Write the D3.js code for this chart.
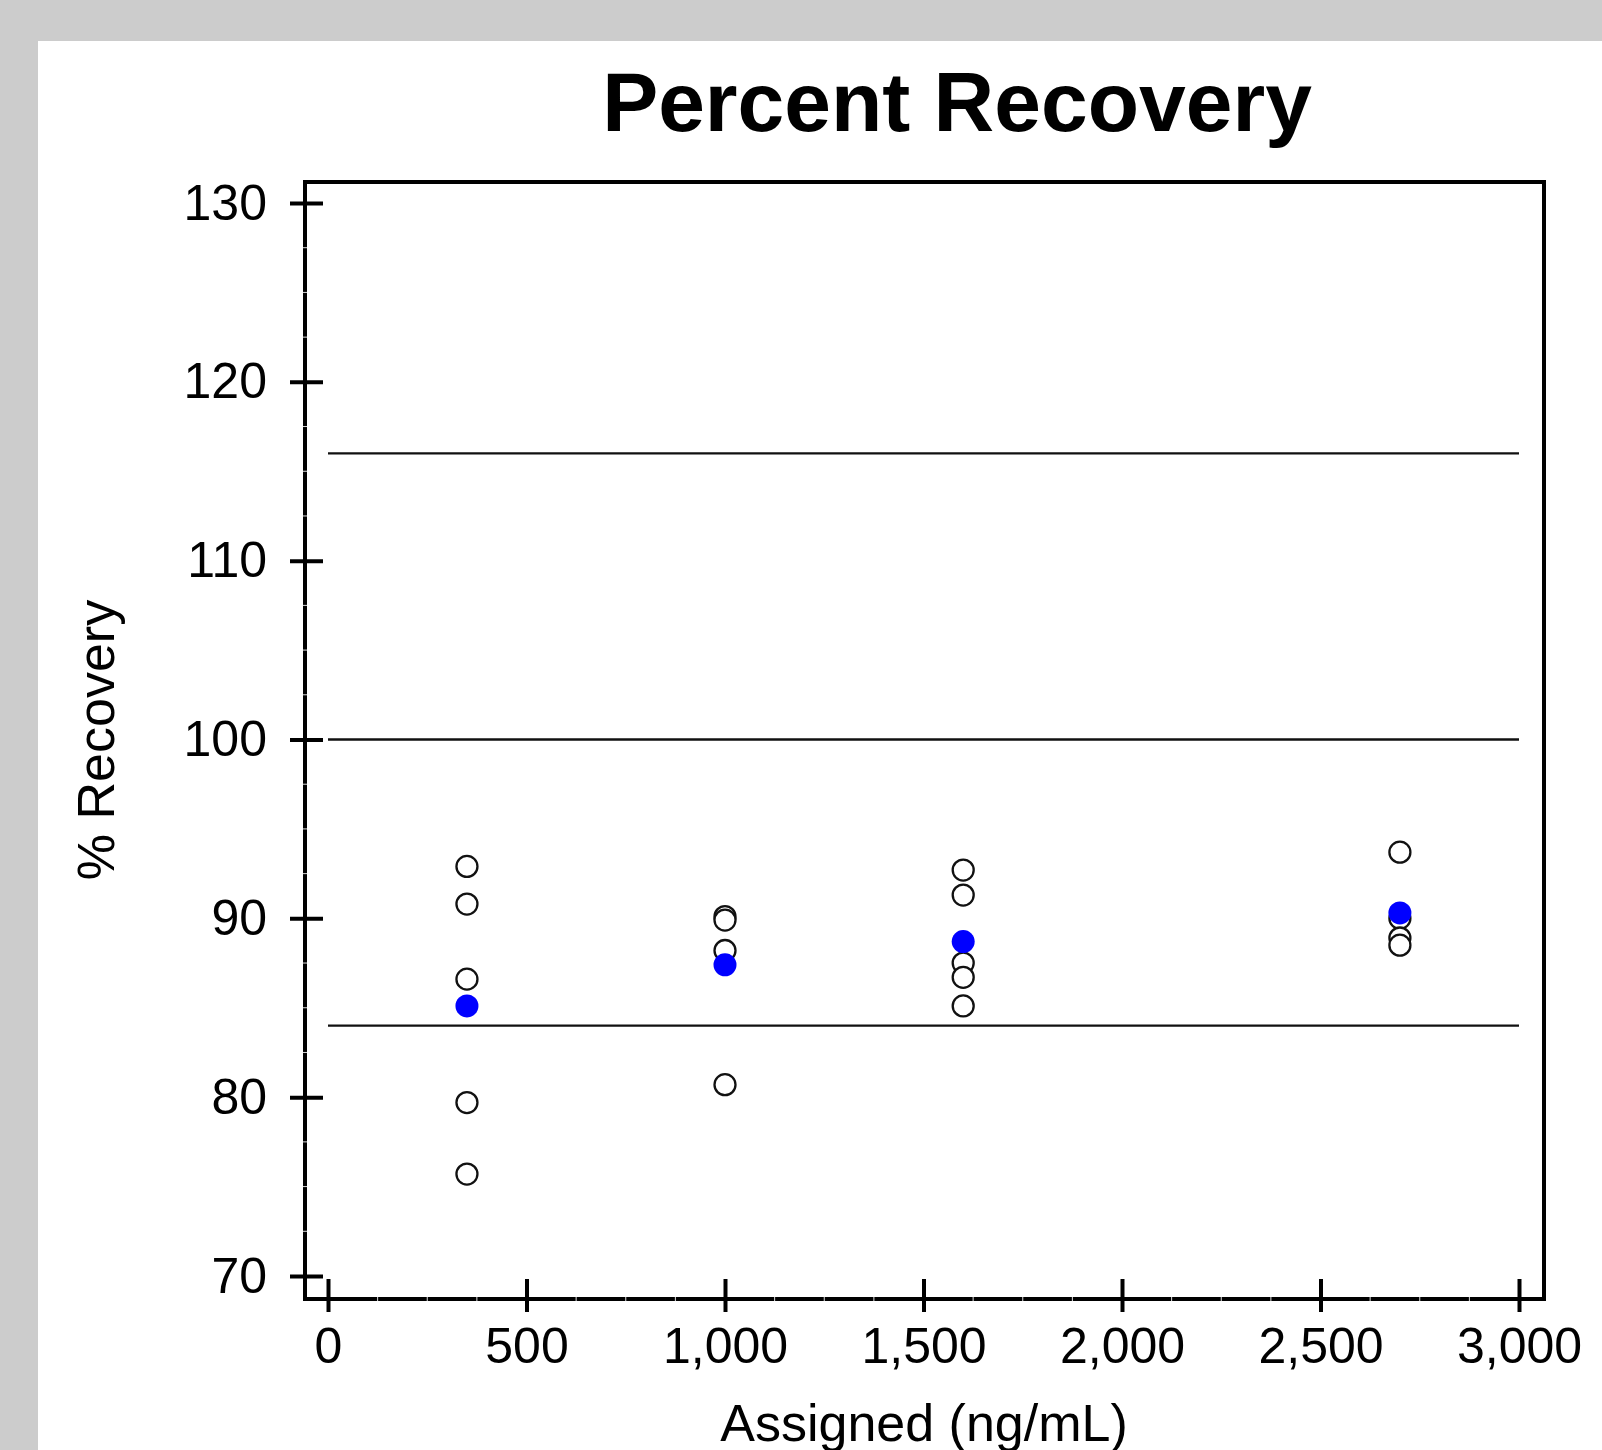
<!DOCTYPE html>
<html>
<head>
<meta charset="utf-8">
<title>Percent Recovery</title>
<script src="https://cdn.jsdelivr.net/npm/d3@7"></script>
<style>
  html, body { margin: 0; padding: 0; background: #cccccc; }
  svg { display: block; font-family: "Liberation Sans", Arial, sans-serif; }
</style>
</head>
<body>
<svg id="chart" width="1602" height="1450"></svg>
<script>
// ======================================================================
// DATA
// ======================================================================

var assigned = [350, 1000, 1600, 2700];

// individual replicate recoveries (%), one list per assigned level
var replicates = [
    [92.9, 90.8, 86.6, 79.7, 75.7],
    [90.1, 89.9, 88.2, 80.7],
    [92.7, 91.3, 87.5, 86.7, 85.1],
    [93.7, 90.0, 88.9, 88.5]
];

// mean recovery per level (blue dots)
var meanRecovery = [85.1, 87.4, 88.7, 90.3];

// acceptance / target lines
var limitLines = [84, 100, 116];

var xTicks = [0, 500, 1000, 1500, 2000, 2500, 3000];
var yTicks = [70, 80, 90, 100, 110, 120, 130];

var titleText = "Percent Recovery";
var xLabelText = "Assigned (ng/mL)";
var yLabelText = "% Recovery";

// ======================================================================
// SETUP
// ======================================================================

var svg = d3.select("#chart");

svg.append("rect")
    .attr("x", 38).attr("y", 41)
    .attr("width", 1602 - 38).attr("height", 1450 - 41)
    .attr("fill", "#ffffff");

var x = d3.scaleLinear().domain([0, 3000]).range([328, 1519]);
var y = d3.scaleLinear().domain([70, 130]).range([1276, 203]);

var frame = { left: 305, top: 182, right: 1544, bottom: 1299 };

// ======================================================================
// REFERENCE LINES
// ======================================================================

svg.append("g").selectAll("line")
    .data(limitLines)
    .enter().append("line")
    .attr("x1", x(0)).attr("x2", x(3000))
    .attr("y1", function(d) { return y(d); })
    .attr("y2", function(d) { return y(d); })
    .attr("stroke", "#111")
    .attr("stroke-width", 2.4);

// ======================================================================
// FRAME + AXES
// ======================================================================

svg.append("rect")
    .attr("x", frame.left).attr("y", frame.top)
    .attr("width", frame.right - frame.left)
    .attr("height", frame.bottom - frame.top)
    .attr("fill", "none")
    .attr("stroke", "#000")
    .attr("stroke-width", 4);

// minor ticks show up as small light notches in the thick axis lines
var yMinor = d3.range(72.5, 130, 2.5).filter(function(v) { return v % 10 !== 0; });
var xMinor = d3.range(125, 3000, 125).filter(function(v) { return v % 500 !== 0; });

svg.append("g").selectAll("line")
    .data(yMinor)
    .enter().append("line")
    .attr("x1", frame.left - 2).attr("x2", frame.left + 2)
    .attr("y1", function(d) { return y(d); })
    .attr("y2", function(d) { return y(d); })
    .attr("stroke", "#ddd")
    .attr("stroke-width", 1);

svg.append("g").selectAll("line")
    .data(xMinor)
    .enter().append("line")
    .attr("y1", frame.bottom - 2).attr("y2", frame.bottom + 2)
    .attr("x1", function(d) { return x(d); })
    .attr("x2", function(d) { return x(d); })
    .attr("stroke", "#ddd")
    .attr("stroke-width", 1);

var yAxis = svg.append("g")
    .attr("transform", "translate(" + frame.left + ",0)")
    .call(d3.axisLeft(y).tickValues(yTicks).tickSize(0).tickPadding(38));

yAxis.select(".domain").remove();
yAxis.selectAll(".tick line")
    .attr("x1", -15).attr("x2", 18)
    .attr("stroke", "#000").attr("stroke-width", 4);
yAxis.selectAll(".tick text")
    .attr("fill", "#000")
    .style("font-size", "50px");

var xAxis = svg.append("g")
    .attr("transform", "translate(0," + frame.bottom + ")")
    .call(d3.axisBottom(x).tickValues(xTicks).tickSize(0).tickPadding(28)
        .tickFormat(d3.format(",")));

xAxis.select(".domain").remove();
xAxis.selectAll(".tick line")
    .attr("y1", -20).attr("y2", 13)
    .attr("stroke", "#000").attr("stroke-width", 4);
xAxis.selectAll(".tick text")
    .attr("fill", "#000")
    .style("font-size", "50px");

// ======================================================================
// POINTS
// ======================================================================

var points = [];
assigned.forEach(function(a, i) {
    replicates[i].forEach(function(v) {
        points.push({ x: a, y: v });
    });
});

svg.append("g").selectAll("circle")
    .data(points)
    .enter().append("circle")
    .attr("cx", function(d) { return x(d.x); })
    .attr("cy", function(d) { return y(d.y); })
    .attr("r", 10.5)
    .attr("fill", "#fff")
    .attr("stroke", "#111")
    .attr("stroke-width", 2.3);

svg.append("g").selectAll("circle")
    .data(meanRecovery)
    .enter().append("circle")
    .attr("cx", function(d, i) { return x(assigned[i]); })
    .attr("cy", function(d) { return y(d); })
    .attr("r", 11.5)
    .attr("fill", "#0000ff");

// ======================================================================
// TEXT
// ======================================================================

svg.append("text")
    .attr("x", 957).attr("y", 131)
    .attr("text-anchor", "middle")
    .style("font-size", "84px")
    .style("font-weight", "bold")
    .text(titleText);

// the reference crops the descenders of this label at the bottom edge
svg.append("text")
    .attr("x", 924).attr("y", 1441)
    .attr("text-anchor", "middle")
    .style("font-size", "52px")
    .text(xLabelText);

svg.append("text")
    .attr("transform", "translate(114,740) rotate(-90)")
    .attr("text-anchor", "middle")
    .style("font-size", "52px")
    .text(yLabelText);
</script>
</body>
</html>
